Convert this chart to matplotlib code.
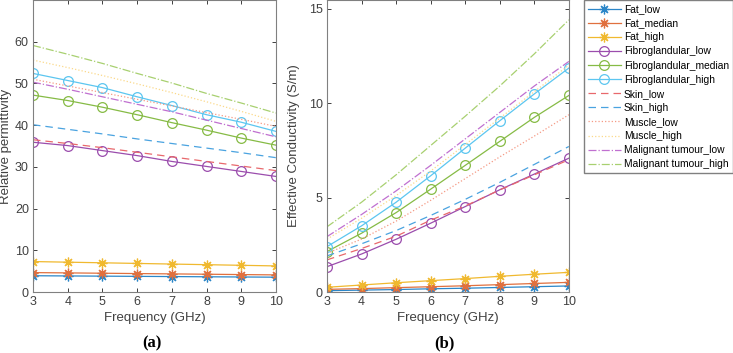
import matplotlib
matplotlib.use("Agg")
from matplotlib import pyplot as plt

plt.rcParams['font.family'] = ['Liberation Sans', 'DejaVu Sans']

freq = [3, 4, 5, 6, 7, 8, 9, 10]

names = ['Fat_low', 'Fat_median', 'Fat_high',
         'Fibroglandular_low', 'Fibroglandular_median', 'Fibroglandular_high',
         'Skin_low', 'Skin_high', 'Muscle_low', 'Muscle_high',
         'Malignant tumour_low', 'Malignant tumour_high']

# relative permittivity (a)
eps_fat_low = [3.9, 3.85, 3.8, 3.75, 3.7, 3.65, 3.6, 3.55]
eps_fat_med = [4.65, 4.58, 4.5, 4.42, 4.34, 4.26, 4.18, 4.1]
eps_fat_high = [7.3, 7.15, 7.0, 6.85, 6.7, 6.55, 6.4, 6.25]
eps_fib_low = [35.9, 35.1, 33.9, 32.7, 31.3, 30.1, 28.9, 27.7]
eps_fib_med = [47.2, 45.9, 44.3, 42.5, 40.6, 38.8, 36.9, 35.2]
eps_fib_high = [52.4, 50.7, 49.0, 46.8, 44.7, 42.5, 40.7, 38.5]
eps_skin_low = [36.5, 35.6, 34.6, 33.5, 32.4, 31.3, 30.2, 29.1]
eps_skin_high = [40.1, 39.0, 37.9, 36.7, 35.6, 34.5, 33.4, 32.2]
eps_mus_low = [51.0, 49.4, 47.8, 46.2, 44.6, 43.0, 41.4, 39.7]
eps_mus_high = [55.6, 53.8, 51.9, 49.9, 47.8, 45.6, 43.3, 40.9]
eps_tum_low = [50.3, 48.6, 46.8, 45.0, 43.2, 41.2, 39.2, 37.2]
eps_tum_high = [59.1, 57.0, 54.8, 52.4, 50.1, 47.6, 45.3, 42.9]

# effective conductivity (b)
sig_fat_low = [0.07, 0.1, 0.13, 0.17, 0.2, 0.24, 0.28, 0.32]
sig_fat_med = [0.14, 0.18, 0.23, 0.28, 0.33, 0.39, 0.45, 0.51]
sig_fat_high = [0.25, 0.37, 0.49, 0.6, 0.71, 0.83, 0.94, 1.04]
sig_fib_low = [1.34, 2.01, 2.79, 3.64, 4.52, 5.41, 6.24, 7.08]
sig_fib_med = [2.14, 3.11, 4.2, 5.44, 6.7, 7.97, 9.24, 10.4]
sig_fib_high = [2.4, 3.5, 4.75, 6.15, 7.61, 9.06, 10.48, 11.85]
sig_skin_low = [1.7, 2.3, 2.95, 3.8, 4.55, 5.4, 6.2, 7.0]
sig_skin_high = [1.91, 2.55, 3.25, 4.05, 4.9, 5.8, 6.75, 7.7]
sig_mus_low = [2.05, 2.8, 3.75, 4.85, 6.0, 7.15, 8.25, 9.38]
sig_mus_high = [2.8, 3.9, 5.1, 6.4, 7.8, 9.2, 10.6, 12.0]
sig_tum_low = [2.93, 4.1, 5.35, 6.7, 8.1, 9.5, 10.9, 12.2]
sig_tum_high = [3.45, 4.75, 6.2, 7.75, 9.3, 10.9, 12.6, 14.4]

eps_all = [eps_fat_low, eps_fat_med, eps_fat_high, eps_fib_low, eps_fib_med,
           eps_fib_high, eps_skin_low, eps_skin_high, eps_mus_low,
           eps_mus_high, eps_tum_low, eps_tum_high]
sig_all = [sig_fat_low, sig_fat_med, sig_fat_high, sig_fib_low, sig_fib_med,
           sig_fib_high, sig_skin_low, sig_skin_high, sig_mus_low,
           sig_mus_high, sig_tum_low, sig_tum_high]

colors = ['#2b86c8', '#e0703f', '#f0b92f', '#9b4dad', '#86bb45', '#5cc6f0',
          '#e8686c', '#4aa3e0', '#f59a85', '#fbd98a', '#c070d0', '#a8d070']
styles = ['-', '-', '-', '-', '-', '-',
          (0, (6, 4)), (0, (6, 4)), ':', ':', '-.', '-.']
star = (8, 2, 0)  # matlab style asterisk
markers = [star, star, star, 'o', 'o', 'o', None, None, None, None, None, None]

gray = '#404040'

fig = plt.figure(figsize=(7.33, 3.53), dpi=100)
ax1 = fig.add_axes([0.045, 0.1728, 0.3315, 0.8272])
ax2 = fig.add_axes([0.4461, 0.1728, 0.330, 0.8272])

lines = []
for i in range(len(names)):
    for ax, data in [(ax1, eps_all[i]), (ax2, sig_all[i])]:
        l, = ax.plot(freq, data, color=colors[i], linestyle=styles[i],
                     marker=markers[i], markersize=7,
                     markerfacecolor='none', markeredgewidth=0.9, linewidth=0.9)
    lines.append(l)

ax1.set_xlim(3, 10)
ax1.set_ylim(0, 70)
ax1.set_yticks([0, 10, 20, 30, 40, 50, 60])
ax1.set_ylabel('Relative permittivity', fontsize=9.5, color=gray, labelpad=2)

ax2.set_xlim(3, 10)
ax2.set_ylim(0, 15.45)
ax2.set_yticks([0, 5, 10, 15])
ax2.set_ylabel('Effective Conductivity (S/m)', fontsize=9.5, color=gray, labelpad=6)

for ax in [ax1, ax2]:
    ax.set_xticks(freq)
    ax.set_xlabel('Frequency (GHz)', fontsize=9.5, color=gray, labelpad=3)
    ax.tick_params(direction='in', top=True, right=True, labelsize=9,
                   colors=gray, length=3, width=0.7, pad=3)
    for s in ax.spines.values():
        s.set_color('#808080')
        s.set_linewidth(0.8)

fig.legend(lines, names, loc='upper right', bbox_to_anchor=(1.0, 1.0),
           fontsize=7.4, frameon=True, fancybox=False, edgecolor='#606060',
           handlelength=3.2, handletextpad=0.3, borderaxespad=0.0,
           labelspacing=0.4, borderpad=0.4)

fig.text(0.207, 0.015, '(a)', fontsize=12, fontweight='bold',
         family='Liberation Serif', ha='center')
fig.text(0.607, 0.015, '(b)', fontsize=12, fontweight='bold',
         family='Liberation Serif', ha='center')

fig.savefig('out.png', dpi=100)
